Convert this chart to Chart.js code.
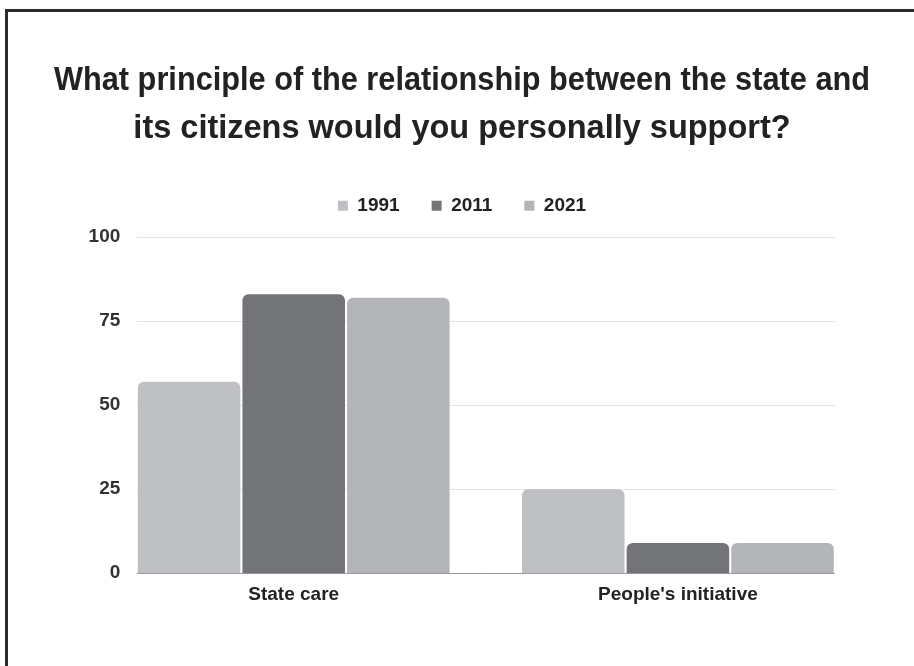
<!DOCTYPE html>
<html>
<head>
<meta charset="utf-8">
<script src="https://cdn.jsdelivr.net/npm/chart.js@4.4.1/dist/chart.umd.min.js"></script>
<style>
  html, body { margin: 0; padding: 0; background: #fff; overflow: hidden; }
  #wrap { position: relative; width: 914px; height: 666px; }
  #frame {
    position: absolute; left: 5px; top: 9px;
    width: 2000px; height: 2000px;
    border-top: 3px solid #2b2b2b; border-left: 3px solid #2b2b2b;
    box-sizing: border-box; pointer-events: none;
  }
  #chart { position: absolute; left: 0; top: 0; }
</style>
</head>
<body>
<div id="wrap">
  <canvas id="chart" width="914" height="666"></canvas>
  <div id="frame"></div>
</div>
<script>
// survey answers, percent
const categories = ['State care', "People's initiative"];
const years      = ['1991', '2011', '2021'];
const values1991 = [57, 25];
const values2011 = [83, 9];
const values2021 = [82, 9];
const yTicks     = [0, 25, 50, 75, 100];

const colors = ['#bfc0c4', '#737478', '#b4b5b9'];
const GROUP_PCT = 0.817;
const FONT = '"Liberation Sans", Arial, sans-serif';

// light grid lines only as wide as the bar groups, darker zero line
const groupGrid = {
  id: 'groupGrid',
  beforeDatasetsDraw(chart) {
    const x = chart.scales.x, y = chart.scales.y;
    const cw = x.width / categories.length;
    const half = cw * GROUP_PCT / 2;
    const left = x.getPixelForValue(0) - half;
    const right = x.getPixelForValue(categories.length - 1) + half;
    const ctx = chart.ctx;
    ctx.save();
    ctx.lineWidth = 1;
    yTicks.forEach(v => {
      const py = Math.round(y.getPixelForValue(v)) + 0.5;
      ctx.strokeStyle = v === 0 ? '#9a9a9a' : '#e3e3e3';
      ctx.beginPath();
      ctx.moveTo(left, py);
      ctx.lineTo(right, py);
      ctx.stroke();
    });
    ctx.restore();
  }
};

const series = [values1991, values2011, values2021];

new Chart(document.getElementById('chart').getContext('2d'), {
  type: 'bar',
  data: {
    labels: categories,
    datasets: years.map((yr, i) => ({
      label: yr,
      data: series[i],
      backgroundColor: colors[i],
      borderWidth: 0,
      borderRadius: 6,
      borderSkipped: 'start',
      categoryPercentage: GROUP_PCT,
      barPercentage: 0.98
    }))
  },
  options: {
    responsive: false,
    animation: false,
    layout: { padding: { left: 54, right: 44, top: 0, bottom: 50 } },
    plugins: {
      title: {
        display: true,
        text: ['What principle of the relationship between the state and',
               'its citizens would you personally support?'],
        color: '#222',
        font: { family: FONT, size: 32.5, weight: 'bold', lineHeight: 1.48 },
        padding: { top: 57, bottom: 11 }
      },
      legend: {
        display: true,
        position: 'top',
        labels: {
          boxWidth: 10,
          boxHeight: 10,
          padding: 32,
          color: '#222',
          font: { family: FONT, size: 19, weight: 'bold' }
        }
      },
      tooltip: { enabled: false }
    },
    scales: {
      x: {
        grid: { display: false, drawTicks: false },
        border: { display: false },
        ticks: {
          padding: 10,
          color: '#222',
          font: { family: FONT, size: 19, weight: 'bold' }
        }
      },
      // empty strip between legend and plot
      xTop: {
        type: 'category',
        position: 'top',
        grid: { display: false, drawTicks: false },
        border: { display: false },
        ticks: { display: false },
        afterFit: scale => { scale.height = 12; }
      },
      y: {
        min: 0,
        max: 100,
        afterFit: scale => { scale.width = 47.6; },
        afterBuildTicks: scale => { scale.ticks = yTicks.map(v => ({ value: v })); },
        grid: { display: false, drawTicks: false },
        border: { display: false },
        ticks: {
          mirror: true,
          crossAlign: 'far',
          padding: -13,
          color: '#333',
          font: { family: FONT, size: 19, weight: 'bold' }
        }
      }
    }
  },
  plugins: [groupGrid]
});
</script>
</body>
</html>
